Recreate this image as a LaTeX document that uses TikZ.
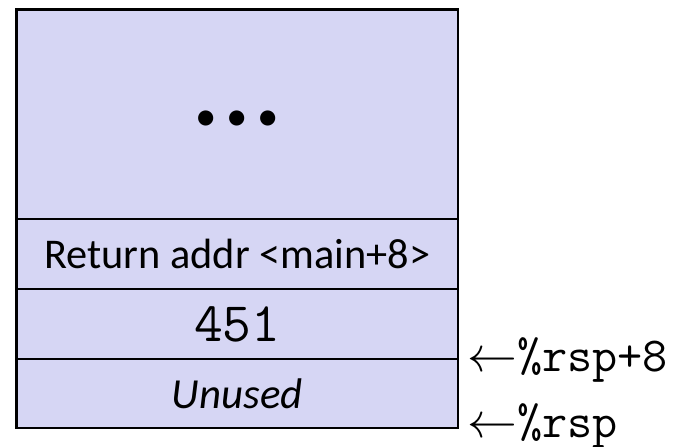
\documentclass[tikz,border=0pt]{standalone}
\usepackage{fontspec}
\setmainfont{Carlito}
\usetikzlibrary{positioning}
\definecolor{mlav}{RGB}{214, 214, 244}
\tikzset{slot/.style = {draw, fill=mlav, line width=2.5, minimum width=441.5bp,
                        inner sep=0, outer sep=0, font=\fontsize{42.5}{50}\selectfont}}
\tikzset{reg/.style = {anchor=base west, inner sep=0,
                       font=\ttfamily\fontsize{49}{58}\selectfont}}
\newcommand{\larr}{\scalebox{5}{\fontsize{10}{12}\selectfont$\leftarrow$}}

\begin{document}
\begin{tikzpicture}[x=1bp, y=-1bp]
    \useasboundingbox (0, 0) rectangle (673, 447);

    \node [slot, minimum height=209.5bp, anchor=north west] (frame) at (16.5, 9.5) {};
    \node [font=\fontsize{43}{50}\selectfont, inner sep=0] (dots) at ([shift={(0, 6)}]frame.center) {• • •};
    \node [slot, minimum height=70bp, below=0 of frame] (ret) {Return addr <main+8>};
    \node [slot, minimum height=70bp, below=0 of ret, font=\ttfamily\fontsize{56}{64}\selectfont] (val) {451};
    \node [slot, minimum height=69bp, below=0 of val, font=\itshape\fontsize{43}{50}\selectfont] (unused) {Unused};

    \node [reg] (rspeight) at ([shift={(9, 12)}]val.south east) {\larr\%rsp+8};
    \node [reg] (rsp) at ([shift={(9, 9)}]unused.south east) {\larr\%rsp};
\end{tikzpicture}
\end{document}
